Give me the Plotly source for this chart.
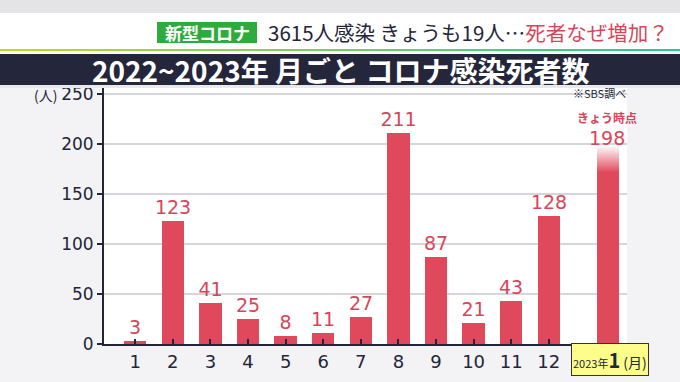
import plotly.graph_objects as go

months = [1, 2, 3, 4, 5, 6, 7, 8, 9, 10, 11, 12]
deaths = [3, 123, 41, 25, 8, 11, 27, 211, 87, 21, 43, 128]
jan_pos = 13.57
jan_2023 = 198
y_ticks = [0, 50, 100, 150, 200, 250]
x_tick_labels = ["1", "2", "3", "4", "5", "6", "7", "8", "9", "10", "11", "12"]

RED = "#e0485c"
LABEL_RED = "#d8455a"
DARK = "#23253a"
FONT = "Noto Sans CJK JP"
NUM = "DejaVu Sans"

fig = go.Figure()
fig.add_trace(go.Bar(
    x=months, y=deaths, width=0.6, marker=dict(color=RED, line=dict(width=0)),
    text=[str(v) for v in deaths], textposition="outside", cliponaxis=False,
    constraintext="none",
    textfont=dict(color=LABEL_RED, size=19, family=NUM), showlegend=False,
))

# Today's bar: solid lower part + fading top segments
fade = 26
solid = jan_2023 - fade
fig.add_trace(go.Bar(x=[jan_pos], y=[solid], width=0.6,
                     marker=dict(color=RED, line=dict(width=0)), showlegend=False))
steps = 26
for i in range(steps):
    seg = fade / steps
    op = 1 - (i + 1) / (steps + 1)
    fig.add_trace(go.Bar(x=[jan_pos], y=[seg], base=[solid + i * seg], width=0.6,
                         marker=dict(color=RED, opacity=op, line=dict(width=0)),
                         showlegend=False))

fig.update_layout(
    width=680, height=382,
    margin=dict(l=104, r=53, t=88, b=38, autoexpand=False),
    paper_bgcolor="#f3f3f5", plot_bgcolor="white",
    barmode="overlay", bargap=0,
    font=dict(family=FONT, color=DARK),
    xaxis=dict(range=[0.17, 14.08], tickvals=months, ticktext=x_tick_labels,
               ticks="inside", ticklen=5, tickwidth=1.5, tickcolor=DARK,
               showline=True, linecolor=DARK, linewidth=2, showgrid=False,
               tickfont=dict(size=18, color=DARK, family=NUM), zeroline=False,
               automargin=False),
    yaxis=dict(range=[0, 256], tickvals=y_ticks, ticks="outside", ticklen=5,
               tickwidth=1.5, tickcolor=DARK, showline=True, linecolor=DARK,
               linewidth=2, showgrid=True, gridcolor="#d6d6da", gridwidth=1.5,
               tickfont=dict(size=17, color=DARK, family=NUM), zeroline=False,
               automargin=False),
)

top_px = 88
bot_px = 344
plot_h = bot_px - top_px
L = 104
R = 627
plot_w = R - L


def py(y):
    return (bot_px - y) / plot_h


def px(x):
    return (x - L) / plot_w


def rect(x0, y0, x1, y1, color):
    return dict(type="rect", xref="paper", yref="paper", x0=px(x0), x1=px(x1),
                y0=py(y1), y1=py(y0), fillcolor=color, line=dict(width=0))


shapes = [
    rect(0, 0, 680, 13, "#e4e4e7"),
    rect(0, 13, 680, 49, "#ffffff"),
    rect(0, 51, 680, 54, "#ffffff"),
    rect(0, 54, 680, 85, "#24263b"),
    rect(0, 85, 680, 88, "#e9e9ec"),
]
grad_n = 40
for i in range(grad_n):
    t = i / (grad_n - 1)
    r = int(190 + (40 - 190) * t)
    g = int(215 + (200 - 215) * t)
    b = int(40 + (150 - 40) * t)
    shapes.append(rect(680 * i / grad_n, 49, 680 * (i + 1) / grad_n + 1, 51,
                       f"rgb({r},{g},{b})"))
shapes.append(dict(type="rect", xref="paper", yref="paper", x0=px(157), x1=px(257),
                   y0=py(43), y1=py(22), fillcolor="#2fab3d",
                   line=dict(width=0)))
fig.update_layout(shapes=shapes)

ann = [
    dict(x=px(207), y=py(32.5), text="<b>新型コロナ</b>", font=dict(size=17, color="white")),
    dict(x=px(266), y=py(32), xanchor="left",
         text="3615人感染 きょうも19人…<span style='color:#d8455a'>死者なぜ増加？</span>",
         font=dict(size=20.5, color=DARK)),
    dict(x=px(340), y=py(70), text="<b>2022~2023年 月ごと コロナ感染死者数</b>",
         font=dict(size=28, color="white")),
    dict(x=px(59), y=py(95), xanchor="right", text="(人)", font=dict(size=14, color=DARK)),
    dict(x=px(628), y=py(93), xanchor="right", text="※SBS調べ", font=dict(size=11, color=DARK)),
    dict(x=px(607), y=py(117.5), text="<b>きょう時点</b>", font=dict(size=12, color=LABEL_RED)),
    dict(x=px(607), y=py(138), text="198", font=dict(size=19, color=LABEL_RED, family=NUM)),
    dict(x=px(610), y=py(359.5),
         text="<span style='font-size:11px'>2023年</span><b>1</b><span style='font-size:14px'> (月)</span>",
         font=dict(size=20, color=DARK), bgcolor="#fdfd8a", bordercolor="#333333",
         borderwidth=1, borderpad=1),
]
for a in ann:
    a.setdefault("xref", "paper")
    a.setdefault("yref", "paper")
    a.setdefault("showarrow", False)
    a.setdefault("xanchor", "center")
    a.setdefault("yanchor", "middle")
fig.update_layout(annotations=ann)

fig.write_html("out.html", config={"displayModeBar": False},
               post_script="document.body.style.margin='0';")
